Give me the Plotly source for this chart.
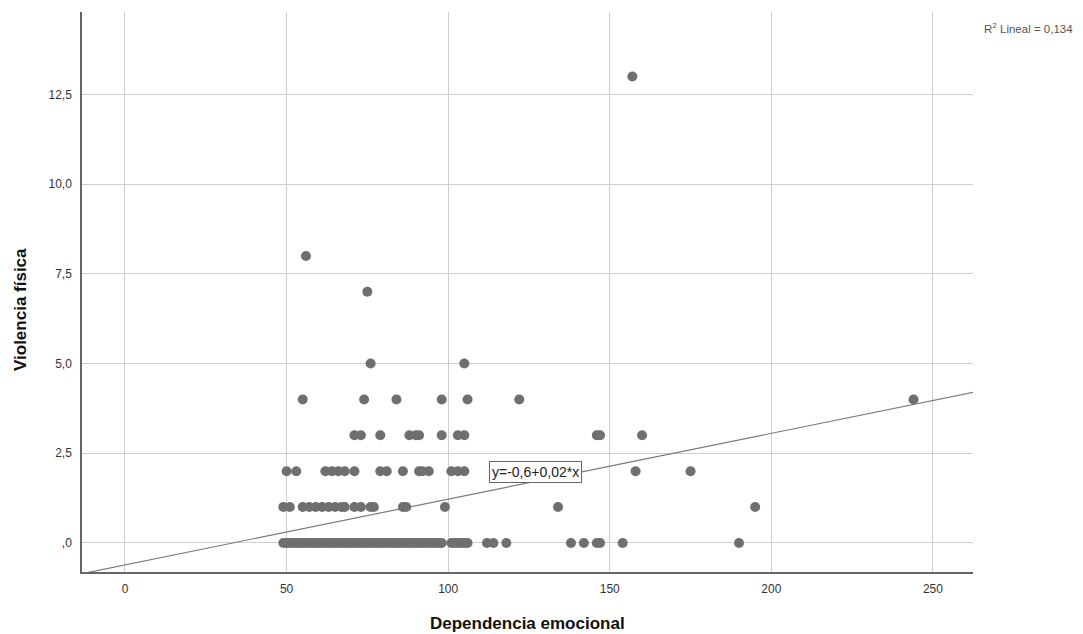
import plotly.graph_objects as go

# Data (Dependencia emocional, Violencia física)
x_y0 = [49, 50, 51, 52, 53, 54, 55, 56, 57, 58, 59, 60, 61, 62, 63, 64, 65, 66, 67, 68, 69, 70,
        71, 72, 73, 74, 75, 76, 77, 78, 79, 80, 81, 82, 83, 84, 85, 86, 87, 88, 89, 90, 91, 92,
        93, 94, 95, 96, 97, 98, 101, 102, 103, 104, 105, 106, 112, 114, 118, 138, 142, 146, 147,
        154, 190]
x_y1 = [49, 51, 55, 57, 59, 61, 63, 65, 67, 68, 71, 73, 76, 77, 86, 87, 99, 134, 195]
x_y2 = [50, 53, 62, 64, 66, 68, 71, 79, 81, 86, 91, 92, 94, 101, 103, 105, 158, 175]
x_y3 = [71, 73, 79, 88, 90, 91, 98, 103, 105, 146, 147, 160]
x_y4 = [55, 74, 84, 98, 106, 122, 244]
x_y5 = [76, 105]
x_y7 = [75]
x_y8 = [56]
x_y13 = [157]

groups = [(0, x_y0), (1, x_y1), (2, x_y2), (3, x_y3), (4, x_y4), (5, x_y5),
          (7, x_y7), (8, x_y8), (13, x_y13)]

xs, ys = [], []
for yv, xl in groups:
    xs += xl
    ys += [yv] * len(xl)

# Fit line
INTERCEPT = -0.613
SLOPE = 0.01834
line_x = [-20, 270]
line_y = [INTERCEPT + SLOPE * v for v in line_x]

x_tickvals = [0, 50, 100, 150, 200, 250]
x_ticktext = ["0", "50", "100", "150", "200", "250"]
y_tickvals = [0, 2.5, 5, 7.5, 10, 12.5]
y_ticktext = [",0", "2,5", "5,0", "7,5", "10,0", "12,5"]

FONT = "Liberation Sans, Arial, sans-serif"
W, H = 1083, 634
L, R, T, B = 74, 118, 4, 70
PW, PH = W - L - R, H - T - B


def px_to_paper(px, py):
    # page pixel (page has 8px body margin) -> paper coords
    fx, fy = px - 8, py - 8
    return (fx - L) / PW, (H - B - fy) / PH


fig = go.Figure()
fig.add_trace(go.Scatter(x=line_x, y=line_y, mode="lines",
                         line=dict(color="#7a7a7a", width=1.2),
                         hoverinfo="skip", showlegend=False))
fig.add_trace(go.Scatter(x=xs, y=ys, mode="markers",
                         marker=dict(color="#6f6f6f", size=10, line=dict(width=0)),
                         showlegend=False))

fig.add_annotation(x=126.9, y=1.99, xref="x", yref="y", text="y=-0,6+0,02*x",
                   showarrow=False, font=dict(family=FONT, size=14, color="#222"),
                   bgcolor="white", bordercolor="#666", borderwidth=1, borderpad=2)

rx, ry = px_to_paper(1075, 28)
fig.add_annotation(x=rx, y=ry, xref="paper", yref="paper", text="R<sup>2</sup> Lineal = 0,134",
                   showarrow=False, xanchor="right", yanchor="middle",
                   font=dict(family=FONT, size=11.5, color="#555"))

tx, ty = px_to_paper(527, 623)
fig.add_annotation(x=tx, y=ty, xref="paper", yref="paper", text="<b>Dependencia emocional</b>",
                   showarrow=False, xanchor="center", yanchor="middle",
                   font=dict(family=FONT, size=17, color="#111"))
vx, vy = px_to_paper(20, 310)
fig.add_annotation(x=vx, y=vy, xref="paper", yref="paper", text="<b>Violencia física</b>",
                   showarrow=False, xanchor="center", yanchor="middle", textangle=-90,
                   font=dict(family=FONT, size=17, color="#111"))

fig.update_layout(
    width=W, height=H,
    margin=dict(l=L, r=R, t=T, b=B, autoexpand=False),
    paper_bgcolor="white", plot_bgcolor="white",
    font=dict(family=FONT, size=12, color="#333"),
    xaxis=dict(range=[-13.3, 262.4], tickvals=x_tickvals, ticktext=x_ticktext,
               showgrid=True, gridcolor="#cfcfcf", gridwidth=1, zeroline=False,
               showline=True, linecolor="#666", linewidth=1.5, ticks="",
               ticklabelstandoff=5, automargin=False,
               tickfont=dict(family=FONT, size=12, color="#333")),
    yaxis=dict(range=[-0.81, 14.8], tickvals=y_tickvals, ticktext=y_ticktext,
               showgrid=True, gridcolor="#cfcfcf", gridwidth=1, zeroline=False,
               showline=True, linecolor="#666", linewidth=1.5, ticks="",
               ticklabelstandoff=6, automargin=False,
               tickfont=dict(family=FONT, size=12, color="#333")),
)

fig.write_html("out.html")
